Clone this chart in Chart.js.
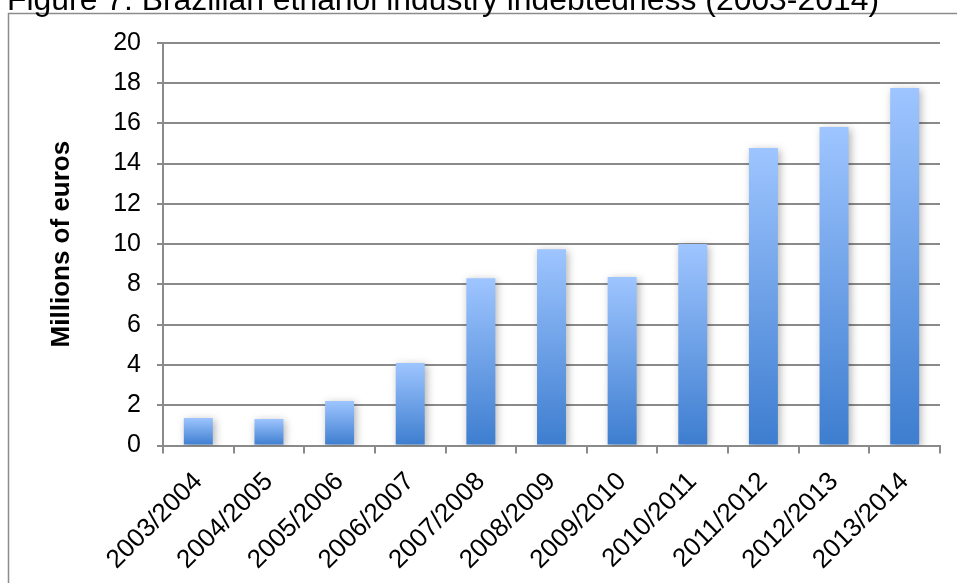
<!DOCTYPE html>
<html>
<head>
<meta charset="utf-8">
<title>Brazilian ethanol industry indebtedness (2003-2014)</title>
<script src="https://cdn.jsdelivr.net/npm/chart.js@4/dist/chart.umd.min.js"></script>
<style>
  html, body { margin: 0; padding: 0; background: #ffffff; }
  #wrap { width: 957px; height: 583px; position: relative; }
</style>
</head>
<body>
<div id="wrap"><canvas id="c" width="957" height="583"></canvas></div>
<script>
// Harvest seasons and debt (millions of euros)
const seasons = ['2003/2004', '2004/2005', '2005/2006', '2006/2007', '2007/2008',
                 '2008/2009', '2009/2010', '2010/2011', '2011/2012', '2012/2013', '2013/2014'];
const debt = [1.37, 1.32, 2.21, 4.1, 8.3, 9.75, 8.37, 10.0, 14.77, 15.81, 17.75];
const yTicks = [0, 2, 4, 6, 8, 10, 12, 14, 16, 18, 20];

const figureTitle = 'Figure 7: Brazilian ethanol industry indebtedness (2003-2014)';
const yAxisTitle = 'Millions of euros';

const FONT = '"Liberation Sans", Arial, Helvetica, sans-serif';
const GRID = '#8a8a8a';

// Vertical gradient per bar: light blue at the top fading to a deeper blue at the base
function barGradient(ctx) {
  const chart = ctx.chart;
  const y = chart.scales.y;
  if (!y || ctx.raw === undefined) return '#6a9fe6';
  const top = y.getPixelForValue(ctx.raw);
  const base = y.getPixelForValue(0);
  if (!isFinite(top) || !isFinite(base) || top === base) return '#6a9fe6';
  const g = chart.ctx.createLinearGradient(0, top, 0, base);
  g.addColorStop(0, '#9ec5ff');
  g.addColorStop(1, '#3d7dcf');
  return g;
}

// Frame, partially visible caption and soft bar shadows
const decorations = {
  id: 'decorations',
  beforeDraw(chart) {
    const c = chart.ctx;
    c.save();
    c.fillStyle = '#ffffff';
    c.fillRect(0, 0, chart.width, chart.height);
    // outer frame (continues past the right and bottom edges)
    c.strokeStyle = '#8c8c8c';
    c.lineWidth = 1.5;
    c.strokeRect(8.5, 13.5, 2000, 2000);
    // caption, only its lower part fits on the page
    c.font = '32px ' + FONT;
    c.fillStyle = '#000000';
    c.textBaseline = 'alphabetic';
    c.textAlign = 'left';
    const w = c.measureText(figureTitle).width;
    const target = 872;
    c.translate(7, 9.5);
    c.scale(target / w, 1);
    c.fillText(figureTitle, 0, 0);
    c.restore();
  },
  beforeDatasetsDraw(chart) {
    const c = chart.ctx;
    c.save();
    c.shadowColor = 'rgba(0,0,0,0.3)';
    c.shadowBlur = 8;
    c.shadowOffsetX = 2;
    c.shadowOffsetY = 2;
  },
  afterDatasetsDraw(chart) {
    chart.ctx.restore();
  }
};

new Chart(document.getElementById('c'), {
  type: 'bar',
  data: {
    labels: seasons,
    datasets: [{
      data: debt,
      backgroundColor: barGradient,
      borderWidth: 0,
      categoryPercentage: 1,
      barPercentage: 0.41
    }]
  },
  options: {
    responsive: false,
    animation: false,
    devicePixelRatio: 1,
    layout: { padding: { left: 0, top: 42.7, right: 17, bottom: 0 } },
    plugins: {
      legend: { display: false },
      tooltip: { enabled: false },
      title: { display: false }
    },
    scales: {
      x: {
        type: 'category',
        offset: true,
        grid: {
          offset: true,
          drawOnChartArea: false,
          drawTicks: true,
          tickLength: 8,
          color: GRID,
          lineWidth: 2
        },
        border: { display: true, color: GRID, width: 2 },
        ticks: {
          color: '#000000',
          font: { family: FONT, size: 26 },
          minRotation: 45,
          maxRotation: 45,
          autoSkip: false,
          padding: 13
        },
        afterFit(scale) { scale.height = 137.5; }
      },
      y: {
        min: 0,
        max: 20,
        afterBuildTicks(scale) { scale.ticks = yTicks.map(v => ({ value: v })); },
        grid: {
          color: GRID,
          lineWidth: 2,
          drawTicks: true,
          tickLength: 6
        },
        border: { display: true, color: GRID, width: 2 },
        ticks: {
          color: '#000000',
          font: { family: FONT, size: 25 },
          padding: 16
        },
        title: {
          display: true,
          text: yAxisTitle,
          color: '#000000',
          font: { family: FONT, size: 26, weight: 'bold' },
          padding: { top: 46, bottom: 0 }
        },
        afterFit(scale) { scale.width = 163; }
      }
    }
  },
  plugins: [decorations]
});
</script>
</body>
</html>
